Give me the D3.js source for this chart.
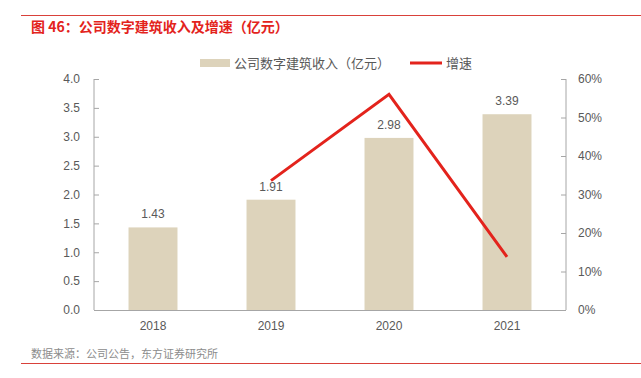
<!DOCTYPE html>
<html>
<head>
<meta charset="utf-8">
<script src="https://cdn.jsdelivr.net/npm/d3@7"></script>
<style>
  body { margin: 0; background: #fff; }
  svg { display: block; font-family: "Noto Sans CJK SC", "Liberation Sans", sans-serif; }
</style>
</head>
<body>
<div id="result"></div>
<script>
// chart data
const years = ['2018', '2019', '2020', '2021'];
const revenue = [1.43, 1.91, 2.98, 3.39];
const growth = [null, 33.6, 56.0, 13.8];
const leftTicks = [0, 0.5, 1, 1.5, 2, 2.5, 3, 3.5, 4];
const rightTicks = [0, 10, 20, 30, 40, 50, 60];

const width = 641;
const height = 378;
const margin = { top: 79, bottom: 68, left: 94, right: 75 };

const barColor = '#ddd3bb';
const lineColor = '#e3231c';
const textColor = '#595959';
const axisColor = '#a6a6a6';

const svg = d3.select('#result')
    .append('svg')
    .attr('width', width)
    .attr('height', height);

// red rules and title
svg.append('line')
    .attr('x1', 21).attr('x2', width)
    .attr('y1', 15.5).attr('y2', 15.5)
    .attr('stroke', '#d9413a').attr('stroke-width', 1);

svg.append('text')
    .attr('x', 31).attr('y', 32)
    .attr('fill', '#e3231c')
    .attr('font-size', 14)
    .attr('font-weight', 'bold')
    .text('图 46：公司数字建筑收入及增速（亿元）');

svg.append('line')
    .attr('x1', 21).attr('x2', width)
    .attr('y1', 363.5).attr('y2', 363.5)
    .attr('stroke', '#d9413a').attr('stroke-width', 1);

svg.append('text')
    .attr('x', 31).attr('y', 358)
    .attr('fill', '#8c8c8c')
    .attr('font-size', 11)
    .text('数据来源：公司公告，东方证券研究所');

// scales
const xScale = d3.scaleBand()
    .domain(years)
    .range([margin.left, width - margin.right])
    .paddingInner(0.585)
    .paddingOuter(0.2925);

const yLeft = d3.scaleLinear()
    .domain([0, 4])
    .range([height - margin.bottom, margin.top]);

const yRight = d3.scaleLinear()
    .domain([0, 60])
    .range([height - margin.bottom, margin.top]);

// axes
const leftAxis = d3.axisLeft(yLeft)
    .tickValues(leftTicks)
    .tickFormat(d3.format('.1f'))
    .tickSize(5)
    .tickPadding(9);

const rightAxis = d3.axisRight(yRight)
    .tickValues(rightTicks)
    .tickFormat(d => d + '%')
    .tickSize(5)
    .tickPadding(7);

const gl = svg.append('g')
    .attr('transform', `translate(${margin.left}, 0)`)
    .call(leftAxis);

const gr = svg.append('g')
    .attr('transform', `translate(${width - margin.right}, 0)`)
    .call(rightAxis);

// ticks point inward on the left axis? reference ticks point inward for both
gl.selectAll('.tick line').attr('x2', 5);
gr.selectAll('.tick line').attr('x2', -5);

[gl, gr].forEach(g => {
    g.select('.domain').attr('stroke', axisColor).attr('d',
        `M0,${yLeft(4)}V${yLeft(0)}`);
    g.selectAll('.tick line').attr('stroke', axisColor);
    g.selectAll('.tick text')
        .attr('fill', textColor)
        .attr('font-size', 12)
        .attr('font-family', '"Liberation Sans", sans-serif');
});

// bars
svg.append('g')
    .selectAll('rect')
    .data(revenue)
    .enter()
    .append('rect')
        .attr('x', (d, i) => xScale(years[i]))
        .attr('y', d => yLeft(d))
        .attr('width', xScale.bandwidth())
        .attr('height', d => yLeft(0) - yLeft(d))
        .attr('fill', barColor);

// bottom axis line
svg.append('line')
    .attr('x1', margin.left).attr('x2', width - margin.right)
    .attr('y1', yLeft(0) + 0.5).attr('y2', yLeft(0) + 0.5)
    .attr('stroke', axisColor);

// x labels
svg.append('g')
    .selectAll('text')
    .data(years)
    .enter()
    .append('text')
        .attr('x', d => xScale(d) + xScale.bandwidth() / 2)
        .attr('y', yLeft(0) + 20)
        .attr('text-anchor', 'middle')
        .attr('fill', textColor)
        .attr('font-size', 12)
        .attr('font-family', '"Liberation Sans", sans-serif')
        .text(d => d);

// bar value labels
svg.append('g')
    .selectAll('text')
    .data(revenue)
    .enter()
    .append('text')
        .attr('x', (d, i) => xScale(years[i]) + xScale.bandwidth() / 2)
        .attr('y', d => yLeft(d) - 9)
        .attr('text-anchor', 'middle')
        .attr('fill', textColor)
        .attr('font-size', 12)
        .attr('font-family', '"Liberation Sans", sans-serif')
        .text(d => d.toFixed(2));

// growth line
const line = d3.line()
    .defined(d => d[1] != null)
    .x(d => xScale(d[0]) + xScale.bandwidth() / 2)
    .y(d => yRight(d[1]));

svg.append('path')
    .datum(d3.zip(years, growth))
    .attr('fill', 'none')
    .attr('stroke', lineColor)
    .attr('stroke-width', 3)
    .attr('stroke-linejoin', 'miter')
    .attr('d', line);

// legend
const legend = svg.append('g');
legend.append('rect')
    .attr('x', 200).attr('y', 59)
    .attr('width', 30).attr('height', 8)
    .attr('fill', barColor);
legend.append('text')
    .attr('x', 234).attr('y', 68)
    .attr('fill', textColor)
    .attr('font-size', 13)
    .text('公司数字建筑收入（亿元）');
legend.append('line')
    .attr('x1', 410).attr('x2', 442)
    .attr('y1', 63).attr('y2', 63)
    .attr('stroke', lineColor)
    .attr('stroke-width', 3);
legend.append('text')
    .attr('x', 446).attr('y', 68)
    .attr('fill', textColor)
    .attr('font-size', 13)
    .text('增速');
</script>
</body>
</html>
